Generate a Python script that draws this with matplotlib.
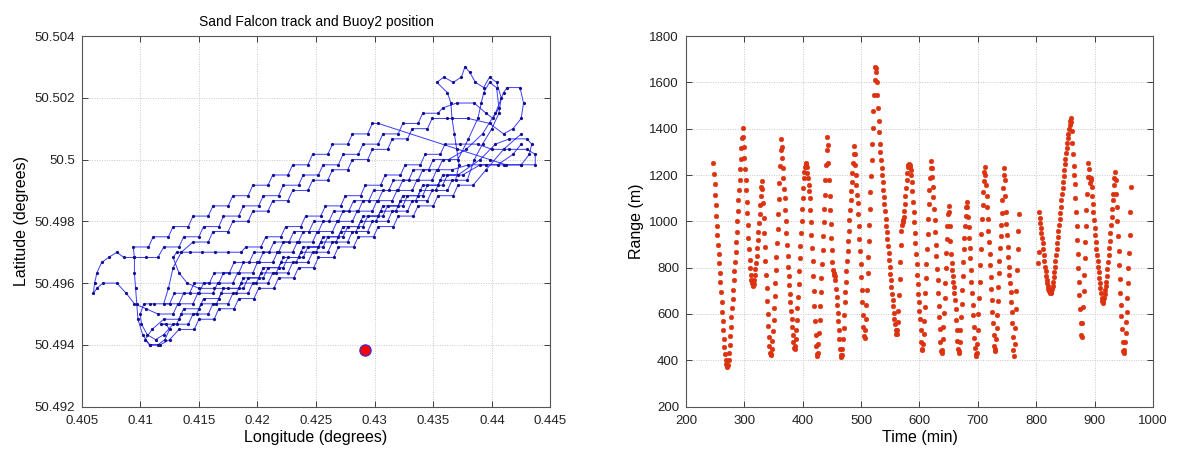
import numpy as np
import matplotlib
matplotlib.use("Agg")
import matplotlib.pyplot as plt

plt.rcParams["font.family"] = ["Liberation Sans", "DejaVu Sans"]

# ---------------------------------------------------------------- track data
# Sand Falcon track, one list pair per pass (degrees)
pass01_lon = [0.4425, 0.4410, 0.4395,
              0.4384, 0.4371, 0.4367, 0.4354, 0.4350, 0.4337, 0.4333, 0.4320, 0.4316, 0.4303,
              0.4299, 0.4286, 0.4282, 0.4269, 0.4265, 0.4252, 0.4248, 0.4235, 0.4231, 0.4218,
              0.4214, 0.4201, 0.4197, 0.4184, 0.4180, 0.4167, 0.4163, 0.4150, 0.4146, 0.4133,
              0.4125, 0.4117, 0.4108, 0.4102, 0.4098, 0.4097, 0.4096, 0.4095, 0.4095]
pass01_lat = [50.50083, 50.50033, 50.49967,
              50.49917, 50.49917, 50.49883, 50.49883, 50.49850, 50.49850, 50.49817, 50.49817, 50.49783, 50.49783,
              50.49750, 50.49750, 50.49717, 50.49717, 50.49683, 50.49683, 50.49650, 50.49650, 50.49617, 50.49617,
              50.49583, 50.49583, 50.49550, 50.49550, 50.49517, 50.49517, 50.49483, 50.49483, 50.49450, 50.49450,
              50.49417, 50.49400, 50.49400, 50.49433, 50.49483, 50.49533, 50.49583, 50.49633, 50.49683]

pass02_lon = [0.4094, 0.4107, 0.4111, 0.4124, 0.4128, 0.4141, 0.4145, 0.4158, 0.4162, 0.4175, 0.4179, 0.4192, 0.4196,
              0.4209, 0.4213, 0.4226, 0.4230, 0.4243, 0.4247, 0.4260, 0.4264, 0.4277, 0.4281, 0.4294, 0.4298, 0.4303,
              0.4398, 0.4412, 0.4425, 0.4432, 0.4434, 0.4430, 0.4415, 0.4403, 0.4390]
pass02_lat = [50.49717, 50.49717, 50.49750, 50.49750, 50.49783, 50.49783, 50.49817, 50.49817, 50.49850, 50.49850,
              50.49883, 50.49883, 50.49917, 50.49917, 50.49950, 50.49950, 50.49983, 50.49983, 50.50017, 50.50017,
              50.50050, 50.50050, 50.50083, 50.50083, 50.50117, 50.50117,
              50.50000, 50.49983, 50.49983, 50.50017, 50.50050, 50.50067, 50.50067, 50.50050, 50.50000]

pass03_lon = [0.4371, 0.4358, 0.4354, 0.4341, 0.4337, 0.4324, 0.4320, 0.4307, 0.4303, 0.4290, 0.4286, 0.4273,
              0.4269, 0.4256, 0.4252, 0.4239, 0.4235, 0.4222, 0.4218, 0.4205, 0.4201, 0.4188, 0.4184, 0.4171,
              0.4167, 0.4154, 0.4150, 0.4137, 0.4133, 0.4120,
              0.4110, 0.4104, 0.4108, 0.4115, 0.4121, 0.4125, 0.4122]
pass03_lat = [50.49950, 50.49950, 50.49917, 50.49917, 50.49883, 50.49883, 50.49850, 50.49850, 50.49817, 50.49817,
              50.49783, 50.49783, 50.49750, 50.49750, 50.49717, 50.49717, 50.49683, 50.49683, 50.49650, 50.49650,
              50.49617, 50.49617, 50.49583, 50.49583, 50.49550, 50.49550, 50.49517, 50.49517, 50.49483, 50.49483,
              50.49450, 50.49417, 50.49400, 50.49400, 50.49417, 50.49450, 50.49467]

pass04_lon = [0.4118, 0.4131, 0.4135, 0.4148, 0.4152, 0.4165, 0.4169, 0.4182, 0.4186, 0.4199, 0.4203, 0.4216,
              0.4220, 0.4233, 0.4237, 0.4250, 0.4254, 0.4267, 0.4271, 0.4284, 0.4288, 0.4301, 0.4305, 0.4318,
              0.4322, 0.4335, 0.4339, 0.4352, 0.4356, 0.4369,
              0.4372, 0.4370, 0.4368, 0.4366, 0.4365, 0.4362, 0.4353, 0.4359, 0.4367, 0.4374, 0.4377,
              0.4381, 0.4386, 0.4393, 0.4398, 0.4404, 0.4408, 0.4406, 0.4400, 0.4392, 0.4385]
pass04_lat = [50.49467, 50.49467, 50.49500, 50.49500, 50.49533, 50.49533, 50.49567, 50.49567, 50.49600, 50.49600,
              50.49633, 50.49633, 50.49667, 50.49667, 50.49700, 50.49700, 50.49733, 50.49733, 50.49767, 50.49767,
              50.49800, 50.49800, 50.49833, 50.49833, 50.49867, 50.49867, 50.49900, 50.49900, 50.49933, 50.49933,
              50.49983, 50.50033, 50.50083, 50.50133, 50.50183, 50.50217, 50.50250, 50.50267, 50.50250, 50.50267,
              50.50300, 50.50283, 50.50250, 50.50233, 50.50267, 50.50250, 50.50200, 50.50150, 50.50100, 50.50050,
              50.50000]

pass05_lon = [0.4379, 0.4366, 0.4362, 0.4349, 0.4345, 0.4332, 0.4328, 0.4315, 0.4311, 0.4298, 0.4294, 0.4281,
              0.4277, 0.4264, 0.4260, 0.4247, 0.4243, 0.4230, 0.4226, 0.4213, 0.4209, 0.4196, 0.4192, 0.4179,
              0.4175, 0.4162, 0.4158, 0.4145, 0.4141, 0.4128,
              0.4120, 0.4113, 0.4106, 0.4101, 0.4100, 0.4103, 0.4108]
pass05_lat = [50.49933, 50.49933, 50.49900, 50.49900, 50.49867, 50.49867, 50.49833, 50.49833, 50.49800, 50.49800,
              50.49767, 50.49767, 50.49733, 50.49733, 50.49700, 50.49700, 50.49667, 50.49667, 50.49633, 50.49633,
              50.49600, 50.49600, 50.49567, 50.49567, 50.49533, 50.49533, 50.49500, 50.49500, 50.49467, 50.49467,
              50.49433, 50.49417, 50.49433, 50.49467, 50.49500, 50.49533, 50.49533]

pass06_lon = [0.4112, 0.4125, 0.4129, 0.4142, 0.4146, 0.4159, 0.4163, 0.4176, 0.4180, 0.4193, 0.4197, 0.4210,
              0.4214, 0.4227, 0.4231, 0.4244, 0.4248, 0.4261, 0.4265, 0.4278, 0.4282, 0.4295, 0.4299, 0.4312,
              0.4316, 0.4329, 0.4333, 0.4346, 0.4350, 0.4363,
              0.4378, 0.4392, 0.4403, 0.4410, 0.4413, 0.4424, 0.4427, 0.4425, 0.4418, 0.4410, 0.4398, 0.4380]
pass06_lat = [50.49533, 50.49533, 50.49567, 50.49567, 50.49600, 50.49600, 50.49633, 50.49633, 50.49667, 50.49667,
              50.49700, 50.49700, 50.49733, 50.49733, 50.49767, 50.49767, 50.49800, 50.49800, 50.49833, 50.49833,
              50.49867, 50.49867, 50.49900, 50.49900, 50.49933, 50.49933, 50.49967, 50.49967, 50.50000, 50.50000,
              50.50033, 50.50083, 50.50150, 50.50217, 50.50233, 50.50233, 50.50183, 50.50133, 50.50100, 50.50083,
              50.50117, 50.50133]

pass07_lon = [0.4362, 0.4349, 0.4345, 0.4332, 0.4328, 0.4315, 0.4311, 0.4298, 0.4294, 0.4281, 0.4277, 0.4264,
              0.4260, 0.4247, 0.4243, 0.4230, 0.4226, 0.4213, 0.4209, 0.4196, 0.4192, 0.4179, 0.4175, 0.4162,
              0.4158, 0.4145,
              0.4135, 0.4128, 0.4124]
pass07_lat = [50.50133, 50.50133, 50.50100, 50.50100, 50.50067, 50.50067, 50.50033, 50.50033, 50.50000, 50.50000,
              50.49967, 50.49967, 50.49933, 50.49933, 50.49900, 50.49900, 50.49867, 50.49867, 50.49833, 50.49833,
              50.49800, 50.49800, 50.49767, 50.49767, 50.49733, 50.49733,
              50.49700, 50.49650, 50.49583]

pass08_lon = [0.4120, 0.4133, 0.4137, 0.4150, 0.4154, 0.4167, 0.4171, 0.4184, 0.4188, 0.4201, 0.4205, 0.4218,
              0.4222, 0.4235, 0.4239, 0.4252, 0.4256, 0.4269, 0.4273, 0.4286, 0.4290, 0.4303, 0.4307, 0.4320,
              0.4324, 0.4337, 0.4341, 0.4354, 0.4358, 0.4371,
              0.4380, 0.4388, 0.4391, 0.4393, 0.4398, 0.4404, 0.4406, 0.4401, 0.4395, 0.4385, 0.4370, 0.4358]
pass08_lat = [50.49533, 50.49533, 50.49567, 50.49567, 50.49600, 50.49600, 50.49633, 50.49633, 50.49667, 50.49667,
              50.49700, 50.49700, 50.49733, 50.49733, 50.49767, 50.49767, 50.49800, 50.49800, 50.49833, 50.49833,
              50.49867, 50.49867, 50.49900, 50.49900, 50.49933, 50.49933, 50.49967, 50.49967, 50.50000, 50.50000,
              50.50067, 50.50133, 50.50183, 50.50217, 50.50250, 50.50233, 50.50167, 50.50133, 50.50150, 50.50183,
              50.50183, 50.50167]

pass09_lon = [0.4354, 0.4341, 0.4337, 0.4324, 0.4320, 0.4307, 0.4303, 0.4290, 0.4286, 0.4273, 0.4269, 0.4256,
              0.4252, 0.4239, 0.4235, 0.4222, 0.4218, 0.4205, 0.4201, 0.4188, 0.4184, 0.4171, 0.4167, 0.4154,
              0.4150, 0.4137, 0.4133, 0.4120,
              0.4115, 0.4105, 0.4095, 0.4086, 0.4080, 0.4073, 0.4067, 0.4063, 0.4061, 0.4060, 0.4063, 0.4068,
              0.4080, 0.4088, 0.4095, 0.4105]
pass09_lat = [50.50150, 50.50150, 50.50117, 50.50117, 50.50083, 50.50083, 50.50050, 50.50050, 50.50017, 50.50017,
              50.49983, 50.49983, 50.49950, 50.49950, 50.49917, 50.49917, 50.49883, 50.49883, 50.49850, 50.49850,
              50.49817, 50.49817, 50.49783, 50.49783, 50.49750, 50.49750, 50.49717, 50.49717,
              50.49683, 50.49683, 50.49683, 50.49683, 50.49700, 50.49683, 50.49667, 50.49633, 50.49600, 50.49567,
              50.49583, 50.49600, 50.49600, 50.49567, 50.49533, 50.49517]

pass10_lon = [0.4115, 0.4128, 0.4132, 0.4145, 0.4149, 0.4162, 0.4166, 0.4179, 0.4183, 0.4196, 0.4200, 0.4213,
              0.4217, 0.4230, 0.4234, 0.4247, 0.4251, 0.4264, 0.4268, 0.4281, 0.4285, 0.4298, 0.4302, 0.4315,
              0.4319, 0.4332, 0.4336, 0.4349, 0.4353, 0.4366,
              0.4380, 0.4395, 0.4410, 0.4425, 0.4437, 0.4437, 0.4430, 0.4415, 0.4400, 0.4388]
pass10_lat = [50.49500, 50.49500, 50.49533, 50.49533, 50.49567, 50.49567, 50.49600, 50.49600, 50.49633, 50.49633,
              50.49667, 50.49667, 50.49700, 50.49700, 50.49733, 50.49733, 50.49767, 50.49767, 50.49800, 50.49800,
              50.49833, 50.49833, 50.49867, 50.49867, 50.49900, 50.49900, 50.49933, 50.49933, 50.49967, 50.49967,
              50.49983, 50.49983, 50.49983, 50.49983, 50.49983, 50.50017, 50.50033, 50.50033, 50.50033, 50.50050]

pass11_lon = [0.4373, 0.4360, 0.4356, 0.4343, 0.4339, 0.4326, 0.4322, 0.4309, 0.4305, 0.4292, 0.4288, 0.4275,
              0.4271, 0.4258, 0.4254, 0.4241, 0.4237, 0.4224, 0.4220, 0.4207, 0.4203, 0.4190,
              0.4186, 0.4175, 0.4164, 0.4153, 0.4142, 0.4131, 0.4128, 0.4133, 0.4140, 0.4150, 0.4163]
pass11_lat = [50.50050, 50.50050, 50.50017, 50.50017, 50.49983, 50.49983, 50.49950, 50.49950, 50.49917, 50.49917,
              50.49883, 50.49883, 50.49850, 50.49850, 50.49817, 50.49817, 50.49783, 50.49783, 50.49750, 50.49750,
              50.49717, 50.49717,
              50.49700, 50.49700, 50.49700, 50.49700, 50.49700, 50.49700, 50.49683, 50.49633, 50.49600, 50.49583,
              50.49583]

pass12_lon = [0.4175, 0.4188, 0.4192, 0.4205, 0.4209, 0.4222, 0.4226, 0.4239, 0.4243, 0.4256, 0.4260, 0.4273,
              0.4277, 0.4290, 0.4294, 0.4307, 0.4311, 0.4324, 0.4328, 0.4341, 0.4345, 0.4358, 0.4362, 0.4375,
              0.4390, 0.4405, 0.4418, 0.4425]
pass12_lat = [50.49583, 50.49583, 50.49617, 50.49617, 50.49650, 50.49650, 50.49683, 50.49683, 50.49717, 50.49717,
              50.49750, 50.49750, 50.49783, 50.49783, 50.49817, 50.49817, 50.49850, 50.49850, 50.49883, 50.49883,
              50.49917, 50.49917, 50.49950, 50.49950,
              50.49983, 50.49983, 50.50017, 50.50050]

buoy_lon = 0.4292
buoy_lat = 50.49385

lon_ticks = [0.405, 0.41, 0.415, 0.42, 0.425, 0.43, 0.435, 0.44, 0.445]
lon_labels = ["0.405", "0.41", "0.415", "0.42", "0.425", "0.43", "0.435", "0.44", "0.445"]
lat_ticks = [50.492, 50.494, 50.496, 50.498, 50.5, 50.502, 50.504]
lat_labels = ["50.492", "50.494", "50.496", "50.498", "50.5", "50.502", "50.504"]

# ---------------------------------------------------------------- range data
# range to Buoy2 (m), one sample per minute; run 1 starts at 247 min, run 2 at 803 min
run1_start_min = 247
run1_range = [
    1250, 1205, 1160, 1115, 1070, 1025, 982, 940, 900, 860,
    820, 778, 736, 694, 652, 610, 570, 530, 492, 458,
    428, 403, 385, 374, 372, 380, 400, 430, 468, 506,
    545, 585, 625, 665, 705, 745, 785, 825, 868, 910,
    955, 1000, 1045, 1090, 1135, 1180, 1225, 1270, 1315, 1360,
    1405, 1365, 1320, 1275, 1225, 1180, 1135, 1085, 1035, 985,
    930, 880, 835, 800, 770, 748, 732, 724, 722, 730,
    748, 770, 795, 822, 852, 885, 920, 955, 992, 1030,
    1070, 1110, 1150, 1175, 1140, 1080, 1015, 950, 890, 830,
    770, 712, 655, 600, 548, 500, 460, 432, 421, 428,
    450, 485, 528, 575, 625, 678, 732, 788, 845, 905,
    965, 1030, 1095, 1165, 1240, 1310, 1357, 1320, 1275, 1230,
    1185, 1140, 1100, 1050, 1000, 950, 900, 850, 805, 765,
    725, 688, 650, 615, 580, 545, 510, 478, 455, 450,
    460, 490, 530, 575, 625, 675, 730, 785, 840, 895,
    950, 1000, 1055, 1100, 1145, 1185, 1215, 1235, 1248, 1252,
    1235, 1210, 1185, 1158, 1130, 1100, 1050, 995, 940, 885,
    830, 765, 700, 635, 570, 510, 460, 428, 418, 430,
    470, 520, 575, 635, 695, 755, 815, 875, 935, 995,
    1055, 1115, 1180, 1245, 1310, 1366, 1330, 1250, 1180, 1110,
    1050, 990, 930, 875, 825, 790, 778, 770, 762, 745,
    710, 675, 640, 605, 570, 530, 490, 450, 425, 415,
    425, 450, 490, 540, 595, 650, 695, 740, 785, 830,
    870, 915, 960, 1005, 1050, 1090, 1130, 1170, 1210, 1250,
    1290, 1325, 1290, 1245, 1200, 1155, 1115, 1080, 1030, 980,
    925, 870, 815, 760, 705, 650, 595, 545, 505, 495,
    530, 580, 640, 705, 775, 845, 915, 985, 1055, 1125,
    1195, 1265, 1335, 1405, 1475, 1545, 1610, 1665, 1660, 1645,
    1600, 1545, 1490, 1435, 1385, 1335, 1300, 1265, 1232, 1200,
    1168, 1136, 1105, 1074, 1043, 1012, 982, 952, 922, 892,
    862, 832, 803, 774, 745, 716, 688, 660, 633, 606,
    580, 556, 533, 513, 512, 530, 565, 615, 680, 750,
    825, 900, 960, 985, 995, 1005, 1020, 1045, 1075, 1110,
    1145, 1180, 1210, 1235, 1245, 1248, 1245, 1235, 1220, 1200,
    1170, 1130, 1085, 1040, 995, 950, 905, 860, 815, 770,
    728, 688, 650, 615, 578, 530, 480, 448, 445, 470,
    515, 570, 630, 690, 755, 815, 880, 945, 1010, 1075,
    1135, 1185, 1230, 1262, 1230, 1190, 1150, 1105, 1055, 1005,
    955, 900, 850, 795, 745, 690, 635, 585, 535, 480,
    440, 430, 445, 490, 545, 605, 670, 735, 800, 865,
    925, 980, 1030, 1065, 1040, 980, 915, 860, 820, 790,
    765, 740, 715, 690, 660, 620, 575, 530, 485, 450,
    432, 440, 480, 530, 585, 645, 705, 765, 825, 880,
    930, 980, 1025, 1060, 1084, 1060, 1020, 975, 930, 885,
    840, 790, 740, 690, 640, 595, 545, 495, 455, 428,
    418, 430, 470, 530, 600, 670, 740, 810, 880, 945,
    1010, 1070, 1125, 1175, 1215, 1235, 1200, 1155, 1110, 1060,
    1010, 960, 910, 860, 810, 760, 710, 660, 610, 560,
    510, 460, 440, 450, 490, 540, 595, 655, 715, 775,
    830, 885, 935, 985, 1035, 1090, 1145, 1200, 1232, 1180,
    1110, 1040, 990, 940, 890, 845, 805, 770, 735, 695,
    650, 610, 560, 500, 445, 420, 470, 540, 620, 700,
    790, 880, 960, 1030,
]

run2_start_min = 803
run2_range = [
    818, 868, 1040, 1015, 992, 970, 950, 930, 905, 880,
    855, 830, 805, 785, 765, 748, 733, 720, 708, 700,
    694, 691, 692, 697, 706, 720, 738, 758, 780, 804,
    830, 856, 882, 908, 934, 960, 986, 1012, 1038, 1064,
    1090, 1116, 1142, 1168, 1194, 1220, 1246, 1270, 1293, 1315,
    1337, 1358, 1378, 1398, 1418, 1435, 1448, 1430, 1390, 1340,
    1290, 1240, 1200, 1160, 1100, 1040, 980, 920, 860, 800,
    740, 680, 620, 560, 510, 500, 560, 630, 700, 770,
    840, 910, 980, 1050, 1120, 1190, 1250, 1225, 1190, 1165,
    1178, 1185, 1150, 1110, 1075, 1040, 1005, 970, 940, 910,
    880, 855, 830, 805, 780, 755, 735, 712, 690, 670,
    655, 648, 655, 668, 685, 702, 720, 740, 765, 795,
    825, 855, 885, 915, 950, 985, 1020, 1055, 1090, 1120,
    1155, 1185, 1212, 1180, 1120, 1060, 1000, 935, 870, 810,
    750, 690, 640, 590, 535, 480, 440, 432, 445, 480,
    520, 565, 610, 670, 735, 800, 865, 940, 1040, 1148,
]

# ---------------------------------------------------------------- figure
passes = [
    (pass01_lon, pass01_lat), (pass02_lon, pass02_lat), (pass03_lon, pass03_lat),
    (pass04_lon, pass04_lat), (pass05_lon, pass05_lat), (pass06_lon, pass06_lat),
    (pass07_lon, pass07_lat), (pass08_lon, pass08_lat), (pass09_lon, pass09_lat),
    (pass10_lon, pass10_lat), (pass11_lon, pass11_lat), (pass12_lon, pass12_lat),
]
track_lon = [v for lon, lat in passes for v in lon]
track_lat = [v for lon, lat in passes for v in lat]

time1 = run1_start_min + np.arange(len(run1_range))
time2 = run2_start_min + np.arange(len(run2_range))

fig = plt.figure(figsize=(11.77, 4.49), dpi=100)
ax1 = fig.add_axes([0.0694, 0.0943, 0.3983, 0.8255])
ax2 = fig.add_axes([0.5828, 0.0943, 0.3968, 0.8255])


def matlab_style(ax):
    ax.grid(True, color="#c8c8c8", linestyle=(0, (1, 1.5)), linewidth=0.7)
    ax.set_axisbelow(True)
    ax.tick_params(direction="in", top=True, right=True, length=4, width=0.6,
                   labelsize=9.5, colors="#222222")
    ax.tick_params(axis="x", pad=6)
    ax.tick_params(axis="y", pad=5)
    for sp in ax.spines.values():
        sp.set_color("#555555")
        sp.set_linewidth(0.8)


# left: track
ax1.plot(track_lon, track_lat, "-", color="#3b3bff", linewidth=0.7,
         marker=".", markersize=2.6, markerfacecolor="#10108a", markeredgecolor="#10108a")
ax1.plot(buoy_lon, buoy_lat, "o", markersize=8, markerfacecolor="#ff0000",
         markeredgecolor="#4b2bc0", markeredgewidth=1.0)
ax1.set_xlim(0.405, 0.445)
ax1.set_ylim(50.492, 50.504)
ax1.set_xticks(lon_ticks)
ax1.set_xticklabels(lon_labels)
ax1.set_yticks(lat_ticks)
ax1.set_yticklabels(lat_labels)
ax1.set_xlabel("Longitude (degrees)", fontsize=11.5, labelpad=2)
ax1.set_ylabel("Latitude (degrees)", fontsize=11.5, labelpad=4)
ax1.set_title("Sand Falcon track and Buoy2 position", fontsize=10, pad=7)
matlab_style(ax1)

# right: range vs time
for t, r in [(time1, run1_range), (time2, run2_range)]:
    ax2.plot(t, r, linestyle="none", marker="o", markersize=3.4,
             markerfacecolor="#dc3210", markeredgecolor="#dc3210", markeredgewidth=0.3)
ax2.set_xlim(200, 1000)
ax2.set_ylim(200, 1800)
ax2.set_xticks(np.arange(200, 1001, 100))
ax2.set_yticks(np.arange(200, 1801, 200))
ax2.set_xlabel("Time (min)", fontsize=11.5, labelpad=2)
ax2.set_ylabel("Range (m)", fontsize=11.5, labelpad=4)
matlab_style(ax2)

fig.savefig("out.png", dpi=100)
